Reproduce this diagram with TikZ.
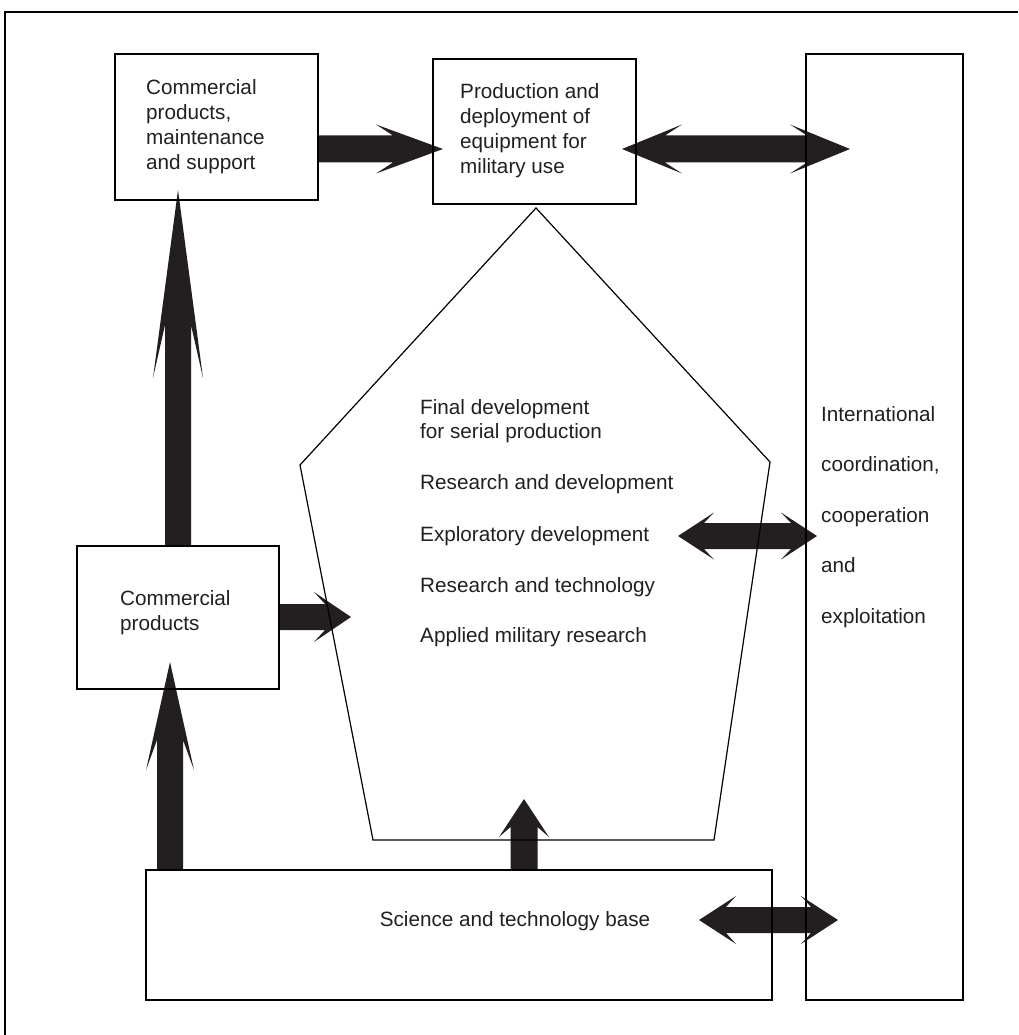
\documentclass[tikz,border=0pt]{standalone}
\usepackage{fontspec}
\setmainfont{Liberation Sans}
\usetikzlibrary{calc}
\definecolor{ink}{HTML}{231F20}
\tikzset{
  box/.style={draw=black, line width=1.4pt, anchor=north west, inner sep=0pt, outer sep=0pt},
  lbl/.style={anchor=north west, inner sep=0pt, align=left, text=ink,
    font=\fontsize{20.7pt}{24.5pt}\selectfont},
  boxlbl/.style={lbl, font=\fontsize{20.7pt}{25pt}\selectfont},
  widelbl/.style={lbl, font=\fontsize{20.7pt}{50.5pt}\selectfont},
  fat/.style={fill=ink},
}
% single fat arrow: from, to, shaft half width, head length, head half width, barb sweep
\newcommand\fatarrow[6]{%
  \coordinate (fa-a) at (#1);
  \coordinate (fa-b) at (#2);
  \pgfmathsetmacro\fajd{#4-#6}
  \coordinate (fa-hb) at ($(fa-b)!#4pt!(fa-a)$);
  \coordinate (fa-j) at ($(fa-b)!\fajd pt!(fa-a)$);
  \fill[fat] ($(fa-a)!#3pt!90:(fa-b)$) -- ($(fa-j)!#3pt!-90:(fa-a)$)
    -- ($(fa-hb)!#5pt!-90:(fa-a)$) -- (fa-b) -- ($(fa-hb)!#5pt!90:(fa-a)$)
    -- ($(fa-j)!#3pt!90:(fa-a)$) -- ($(fa-a)!#3pt!-90:(fa-b)$) -- cycle;
}
% double fat arrow
\newcommand\fatdarrow[6]{%
  \coordinate (fa-a) at (#1);
  \coordinate (fa-b) at (#2);
  \pgfmathsetmacro\fajd{#4-#6}
  \coordinate (fa-ha) at ($(fa-a)!#4pt!(fa-b)$);
  \coordinate (fa-ja) at ($(fa-a)!\fajd pt!(fa-b)$);
  \coordinate (fa-hb) at ($(fa-b)!#4pt!(fa-a)$);
  \coordinate (fa-jb) at ($(fa-b)!\fajd pt!(fa-a)$);
  \fill[fat] (fa-a) -- ($(fa-ha)!#5pt!90:(fa-b)$) -- ($(fa-ja)!#3pt!90:(fa-b)$)
    -- ($(fa-jb)!#3pt!-90:(fa-a)$) -- ($(fa-hb)!#5pt!-90:(fa-a)$) -- (fa-b)
    -- ($(fa-hb)!#5pt!90:(fa-a)$) -- ($(fa-jb)!#3pt!90:(fa-a)$)
    -- ($(fa-ja)!#3pt!-90:(fa-b)$) -- ($(fa-ha)!#5pt!-90:(fa-b)$) -- cycle;
}
\begin{document}
\begin{tikzpicture}[x=1pt,y=-1pt]
\useasboundingbox (0,0) rectangle (1018,1035);
% frame (top and left edges)
\draw[line width=1.3pt] (5,1035) -- (5,12) -- (1018,12);

% boxes
\node[box, minimum width=203pt, minimum height=146pt] (A) at (115,54) {};
\node[box, minimum width=203pt, minimum height=145pt] (B) at (433,59) {};
\node[box, minimum width=157pt, minimum height=946pt] (C) at (806,54) {};
\node[box, minimum width=202pt, minimum height=143pt] (D) at (77,546) {};
\node[box, minimum width=626pt, minimum height=130pt] (E) at (146,870) {};

% pentagon
\coordinate (P1) at (536,208);
\coordinate (P2) at (770,462);
\coordinate (P3) at (714,840);
\coordinate (P4) at (373,840);
\coordinate (P5) at (300,465);

% fat arrows
\fatarrow{318,149}{443,149}{13.5}{67}{24.5}{17}
\fatdarrow{622,149}{850,149}{13.5}{60}{24.5}{17}
\fatarrow{178,546}{178,190}{13}{188}{25}{53}
\fatarrow{279,617}{351,617}{13}{37}{25}{11}
\fatdarrow{678,536}{817,536}{13}{36}{23.5}{10}
\fatarrow{524,870}{524,799}{13.5}{38}{25}{10}
\fatarrow{170,870}{170,662}{13}{108}{24}{30}
\fatdarrow{699,920}{838,920}{13}{37}{24}{10}

% redraw outlines on top
\draw[line width=1.4pt] (A.north west) rectangle (A.south east);
\draw[line width=1.4pt] (B.north west) rectangle (B.south east);
\draw[line width=1.4pt] (C.north west) rectangle (C.south east);
\draw[line width=1.4pt] (D.north west) rectangle (D.south east);
\draw[line width=1.4pt] (E.north west) rectangle (E.south east);
\draw[line width=1.2pt, line join=miter] (P1) -- (P2) -- (P3) -- (P4) -- (P5) -- cycle;

% labels
\node[boxlbl] (tA) at (146,79) {Commercial\\products,\\maintenance\\and support};
\node[boxlbl] (tB) at (460,83) {Production and\\deployment of\\equipment for\\military use};
\node[widelbl] (tC) at (821,406) {International\\coordination,\\cooperation\\and\\exploitation};
\node[boxlbl] (tD) at (120,590) {Commercial\\products};
\node[lbl, anchor=base] (tE) at (515,926) {Science and technology base};
\node[lbl] (t1) at (420,399) {Final development\\for serial production};
\node[lbl] (t2) at (420,474) {Research and development};
\node[lbl] (t3) at (420,526) {Exploratory development};
\node[lbl] (t4) at (420,577) {Research and technology};
\node[lbl] (t5) at (420,627) {Applied military research};
\end{tikzpicture}
\end{document}
